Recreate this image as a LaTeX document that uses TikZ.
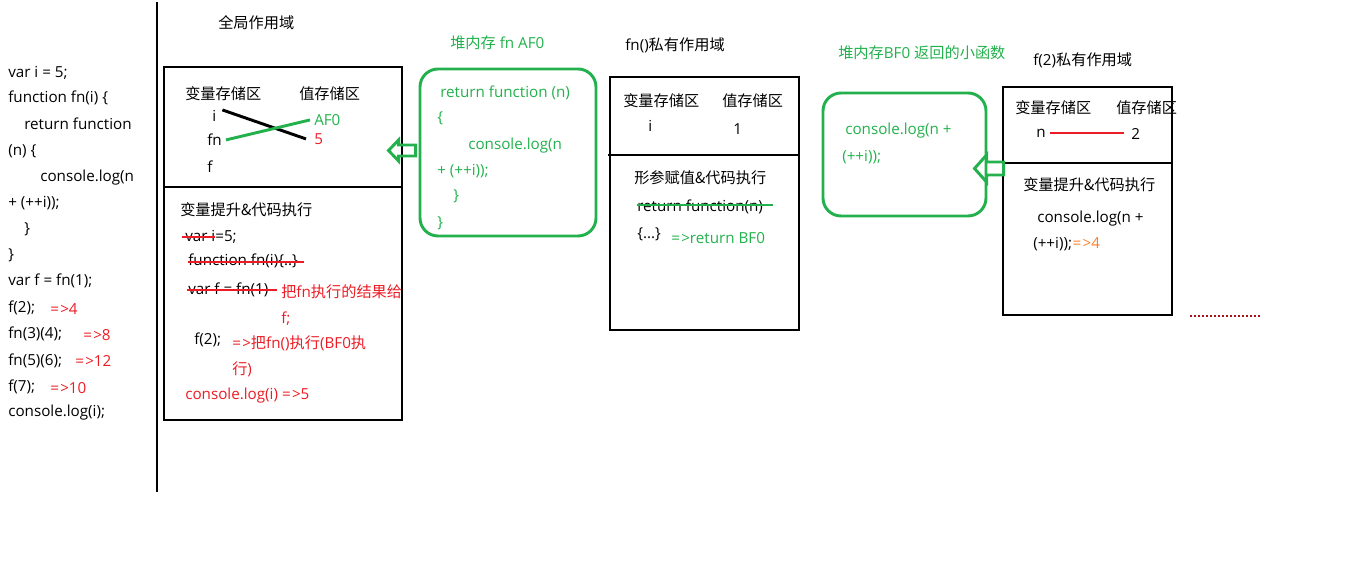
\documentclass[tikz,border=0pt]{standalone}
\usepackage{fontspec}
\setmainfont{Open Sans}
\newfontfamily\cjk{Noto Sans CJK SC}
\newcommand\zh[1]{{\cjk #1}}
\usetikzlibrary{fit,calc}
\definecolor{pgreen}{RGB}{34,177,76}
\definecolor{pred}{RGB}{237,28,36}
\definecolor{porange}{RGB}{255,127,39}
\begin{document}
\begin{tikzpicture}[x=0.75pt,y=-0.75pt,
  t/.style={anchor=west,inner sep=0pt,text height=8pt,text depth=4.5pt,yshift=-2.2pt,font=\fontsize{11.4}{13}\selectfont},
  gt/.style={t,text=pgreen},
  rt/.style={t,text=pred},
  ot/.style={t,text=porange},
  box/.style={draw,line width=2.2pt,inner sep=0pt},
  heap/.style={draw=pgreen,line width=2.2pt,inner sep=0pt,rounded corners=13.5pt},
  thick3/.style={line width=2.2pt},
  strike/.style={line width=0.8pt},
  garr/.style={draw=pgreen,line width=2.2pt}]
\useasboundingbox (0,0) rectangle (1354,573);

% left code
\node[t] (c1) at (8,72) {var i = 5;};
\node[t] (c2) at (8,97) {function fn(i) \{};
\node[t] (c3) at (24,124) {return function};
\node[t] (c4) at (8,150) {(n) \{};
\node[t] (c5) at (40,176) {console.log(n};
\node[t] (c6) at (8,202) {+ (++i));};
\node[t] (c7) at (24,228) {\}};
\node[t] (c8) at (8,254) {\}};
\node[t] (c9) at (8,280) {var f = fn(1);};
\node[t] (c10) at (8,307) {f(2);};
\node[t] (c11) at (8,333) {fn(3)(4);};
\node[t] (c12) at (8,360) {fn(5)(6);};
\node[t] (c13) at (8,386) {f(7);};
\node[t] (c14) at (8,411) {console.log(i);};
\node[rt] (r1) at (50,309) {=\kern1pt>4};
\node[rt] (r2) at (83,335) {=\kern1pt>8};
\node[rt] (r3) at (75,361) {=\kern1pt>12};
\node[rt] (r4) at (50,388) {=\kern1pt>10};

\coordinate (vtop) at (157,2);
\coordinate (vbot) at (157,492);
\draw[thick3] (vtop) -- (vbot);

% global scope
\node[t] (gtitle) at (218,23) {\zh{全局作用域}};
\node[box,fit={(164,67) (402,420)}] (g) {};
\coordinate (gdl) at (164,187);
\coordinate (gdr) at (402,187);
\draw[thick3] (gdl) -- (gdr);
\node[t] (gvar) at (185,94) {\zh{变量存储区}};
\node[t] (gval) at (299,94) {\zh{值存储区}};
\node[t] (gi) at (212,116) {i};
\node[t] (gfn) at (207,140) {fn};
\node[t] (gf) at (207,167) {f};
\node[gt] (gaf) at (314,120) {AF0};
\node[rt] (g5) at (314,139) {5};
\draw[thick3] ([shift={(6,-9)}]gi.east) -- ([shift={(-8,-3)}]g5.west);
\draw[thick3,pgreen] ([shift={(4,-3)}]gfn.east) -- ([shift={(-4,-3)}]gaf.west);

\node[t] (gexec) at (180,210) {\zh{变量提升\&代码执行}};
\node[t] (gs1) at (185,236) {var i=5;};
\draw[strike,pred] (182,237) -- (215,237);
\node[t] (gs2) at (188,260) {function fn(i)\{..\}};
\draw[strike,pred] (188,262) -- (304,262);
\node[t] (gs3) at (188,289) {var f = fn(1)};
\draw[strike,pred] (187,290) -- (277,290);
\node[rt] (gn1) at (281,292) {\zh{把}fn\zh{执行的结果给}};
\node[rt] (gn2) at (281,318) {f;};
\node[t] (gs4) at (194,339) {f(2);};
\node[rt] (gn3) at (232,343) {=\kern1pt>\zh{把}fn()\zh{执行}(BF0\zh{执}};
\node[rt] (gn4) at (232,369) {\zh{行})};
\node[rt] (gs5) at (185,394) {console.log(i) =\kern1pt>5};

% heap AF0
\node[gt] (h1title) at (450,43) {\zh{堆内存} fn AF0};
\node[heap,fit={(420,69) (596,236)}] (h1) {};
\node[gt] (h1a) at (440,92) {return function (n)};
\node[gt] (h1b) at (437,117) {\{};
\node[gt] (h1c) at (468,144) {console.log(n};
\node[gt] (h1d) at (437,170) {+ (++i));};
\node[gt] (h1e) at (453,195) {\}};
\node[gt] (h1f) at (437,222) {\}};
\coordinate (a1) at ($(h1.west |- 0,150.5)+(-3,0)$);
\draw[garr] (a1) -- ++(0,-5.5) -- ++(-17,0) -- ++(0,-5) -- ++(-10,10.5) -- ++(10,10.5) -- ++(0,-5) -- ++(17,0) -- cycle;

% fn() scope
\node[t] (ftitle) at (625,45) {fn()\zh{私有作用域}};
\node[box,fit={(610,77) (799,330)}] (fb) {};
\coordinate (fdl) at (608,155);
\coordinate (fdr) at (799,155);
\draw[thick3] (fdl) -- (fdr);
\node[t] (fvar) at (623,101) {\zh{变量存储区}};
\node[t] (fval) at (722,101) {\zh{值存储区}};
\node[t] (fi) at (648,126) {i};
\node[t] (f1) at (733,129) {1};
\node[t] (fexec) at (634,178) {\zh{形参赋值\&代码执行}};
\node[t] (fs1) at (637,206) {return function(n)};
\draw[strike,pgreen] (637,205) -- (773,205);
\node[t] (fs2) at (637,233) {\{...\}};
\node[gt] (fs3) at (671,238) {=\kern1pt>return BF0};

% heap BF0
\node[gt] (h2title) at (838,53) {\zh{堆内存}BF0 \zh{返回的小函数}};
\node[heap,fit={(823,93) (986,216)}] (h2) {};
\node[gt] (h2a) at (845,129) {console.log(n +};
\node[gt] (h2b) at (842,156) {(++i));};

% f(2) scope
\node[t] (ptitle) at (1033,60) {f(2)\zh{私有作用域}};
\node[box,fit={(1003,87) (1172,315)}] (pb) {};
\coordinate (pdl) at (1003,163);
\coordinate (pdr) at (1172,163);
\draw[thick3] (pdl) -- (pdr);
\node[t] (pvar) at (1015,108) {\zh{变量存储区}};
\node[t] (pval) at (1116,108) {\zh{值存储区}};
\node[t] (pn) at (1036,132) {n};
\node[t] (p2) at (1131,134) {2};
\draw[line width=1pt,pred] ([shift={(4,-2)}]pn.east) -- ($(p2.west |- pn.east)+(-7,-2)$);
\node[t] (pexec) at (1023,185) {\zh{变量提升\&代码执行}};
\node[t] (ps1) at (1037,217) {console.log(n +};
\node[t] (ps2) at (1033,243) {(++i));};
\node[ot,anchor=west,yshift=2.2pt] (ps3) at (ps2.east) {=\kern1pt>4};
\coordinate (a2) at ($(pb.west |- 0,168.5)+(2,0)$);
\draw[garr] (a2) -- ++(0,-6.5) -- ++(-17,0) -- ++(0,-7) -- ++(-12,13.5) -- ++(12,13.5) -- ++(0,-7) -- ++(17,0) -- cycle;

% dots
\coordinate (d1) at (1190,316);
\coordinate (d2) at (1260,316);
\draw[line width=1.2pt,pred!70!black,dash pattern=on 1.5pt off 1.5pt] (d1) -- (d2);
\end{tikzpicture}
\end{document}
